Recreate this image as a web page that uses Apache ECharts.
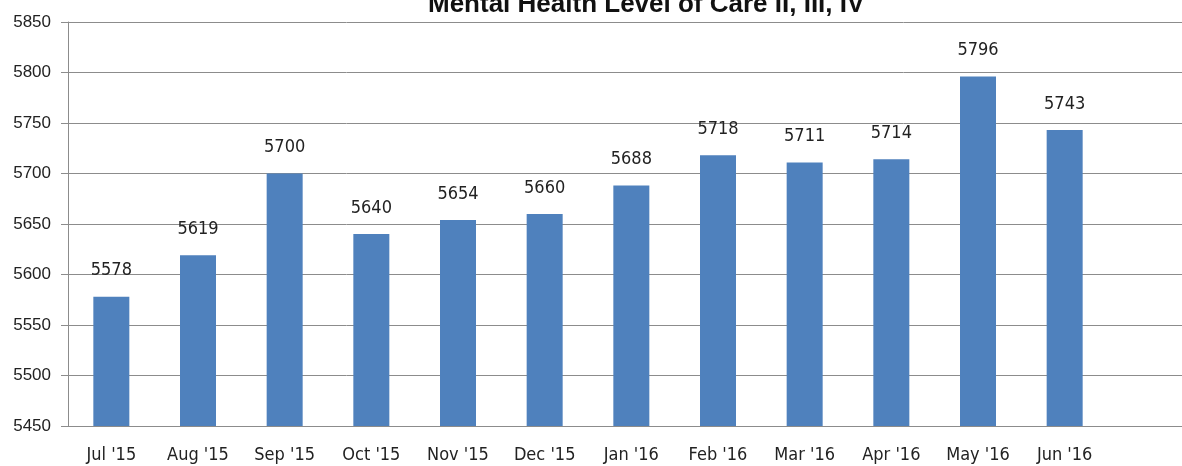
<!DOCTYPE html>
<html>
<head>
<meta charset="utf-8">
<script src="https://cdn.jsdelivr.net/npm/echarts@6/dist/echarts.min.js"></script>
<style>
  html, body { margin: 0; padding: 0; background: #fff; }
  #chart { width: 1182px; height: 466px; }
</style>
</head>
<body>
<div id="chart"></div>
<script>
var months = ["Jul '15", "Aug '15", "Sep '15", "Oct '15", "Nov '15", "Dec '15",
  "Jan '16", "Feb '16", "Mar '16", "Apr '16", "May '16", "Jun '16"];
var counts = [5578, 5619, 5700, 5640, 5654, 5660, 5688, 5718, 5711, 5714, 5796, 5743];
var yMin = 5450;
var yMax = 5850;
var yStep = 50;

var narrowFont = "'DejaVu Sans Condensed', 'Liberation Sans', sans-serif";

var myChart = echarts.init(document.getElementById('chart'));

var option = {
  animation: false,
  title: {
    text: 'Mental Health Level of Care II, III, IV',
    left: 423,
    top: -13,
    textStyle: {
      fontFamily: 'Liberation Sans',
      fontWeight: 'bold',
      fontSize: 26,
      color: '#111'
    }
  },
  grid: [
    { left: 68, right: 74, top: 22, bottom: 40 },
    // wider grid only for the horizontal lines that run to the right edge
    { left: 68, right: 0, top: 22, bottom: 40 }
  ],
  xAxis: [
    {
      type: 'category',
      gridIndex: 0,
      data: months,
      axisLine: { lineStyle: { color: '#8c8c8c', width: 1 } },
      axisTick: { show: false },
      axisLabel: {
        interval: 0,
        margin: 20,
        fontFamily: narrowFont,
        fontSize: 18,
        color: '#222'
      }
    },
    {
      type: 'value',
      gridIndex: 1,
      show: false
    }
  ],
  yAxis: [
    {
      type: 'value',
      gridIndex: 0,
      min: yMin,
      max: yMax,
      interval: yStep,
      axisLine: { show: true, lineStyle: { color: '#8c8c8c', width: 1 } },
      axisTick: { show: true, inside: false, length: 7, lineStyle: { color: '#8c8c8c' } },
      splitLine: { show: false },
      axisLabel: {
        margin: 17,
        fontFamily: 'Liberation Sans',
        fontSize: 17,
        color: '#222',
        formatter: function (v) { return String(v); }
      }
    },
    {
      type: 'value',
      gridIndex: 1,
      min: yMin,
      max: yMax,
      interval: yStep,
      axisLine: { show: false },
      axisTick: { show: false },
      axisLabel: { show: false },
      splitLine: { show: true, lineStyle: { color: '#8c8c8c', width: 1 } }
    }
  ],
  series: [
    {
      name: 'Level of Care',
      type: 'bar',
      xAxisIndex: 0,
      yAxisIndex: 0,
      barWidth: 36,
      z: 3,
      itemStyle: { color: '#4f81bd' },
      label: {
        show: true,
        position: 'top',
        distance: 17,
        fontFamily: narrowFont,
        fontSize: 18,
        color: '#222'
      },
      data: counts
    }
  ]
};

myChart.setOption(option);
</script>
</body>
</html>
